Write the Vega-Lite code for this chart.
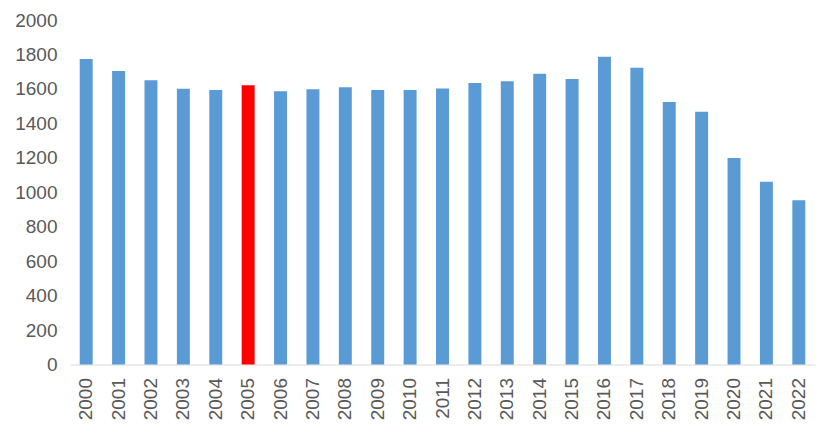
{
  "$schema": "https://vega.github.io/schema/vega-lite/v6.json",
  "autosize": {"type": "none"},
  "width": 745,
  "height": 344.5,
  "padding": {"left": 70, "top": 20, "right": 16, "bottom": 81.5},
  "background": "#ffffff",
  "config": {
    "view": {"stroke": null},
    "font": "Liberation Sans"
  },
  "data": {
    "values": [
      {"year": "2000", "value": 1773},
      {"year": "2001", "value": 1704},
      {"year": "2002", "value": 1650},
      {"year": "2003", "value": 1601},
      {"year": "2004", "value": 1594},
      {"year": "2005", "value": 1621},
      {"year": "2006", "value": 1586},
      {"year": "2007", "value": 1598},
      {"year": "2008", "value": 1609},
      {"year": "2009", "value": 1594},
      {"year": "2010", "value": 1594},
      {"year": "2011", "value": 1603},
      {"year": "2012", "value": 1634},
      {"year": "2013", "value": 1644},
      {"year": "2014", "value": 1688},
      {"year": "2015", "value": 1657},
      {"year": "2016", "value": 1787},
      {"year": "2017", "value": 1723},
      {"year": "2018", "value": 1524},
      {"year": "2019", "value": 1468},
      {"year": "2020", "value": 1199},
      {"year": "2021", "value": 1061},
      {"year": "2022", "value": 953}
    ]
  },
  "mark": {"type": "bar"},
  "encoding": {
    "x": {
      "field": "year",
      "type": "ordinal",
      "scale": {"paddingInner": 0.6, "paddingOuter": 0.3},
      "axis": {
        "title": null,
        "labelAngle": -90,
        "labelAlign": "right",
        "labelBaseline": "middle",
        "labelPadding": 13,
        "labelFontSize": 19,
        "labelColor": "#595959",
        "ticks": false,
        "domainColor": "#D9D9D9",
        "domainWidth": 1,
        "grid": false
      }
    },
    "y": {
      "field": "value",
      "type": "quantitative",
      "scale": {"domain": [0, 2000], "nice": false},
      "axis": {
        "title": null,
        "format": "d",
        "values": [0, 200, 400, 600, 800, 1000, 1200, 1400, 1600, 1800, 2000],
        "labelFontSize": 19,
        "labelColor": "#595959",
        "labelPadding": 13,
        "ticks": false,
        "domain": false,
        "grid": false
      }
    },
    "color": {
      "condition": {"test": "datum.year === '2005'", "value": "#FF0000"},
      "value": "#5B9BD5"
    }
  }
}
